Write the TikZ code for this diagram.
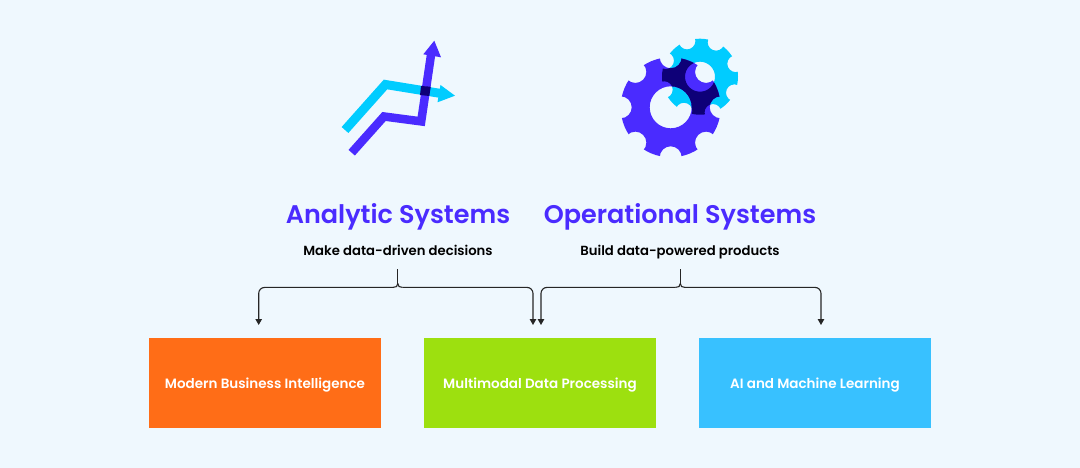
\documentclass[tikz,border=0pt]{standalone}
\usepackage{fontspec}
\setmainfont[BoldFont={Poppins SemiBold}]{Poppins}
\usetikzlibrary{arrows.meta}
\definecolor{pagebg}{HTML}{EFF8FE}
\definecolor{inkblue}{HTML}{4A2BFF}
\definecolor{inkcyan}{HTML}{00CCFF}
\definecolor{inknavy}{HTML}{0E0078}
\definecolor{boxorange}{HTML}{FF6D17}
\definecolor{boxgreen}{HTML}{9DE00F}
\definecolor{boxsky}{HTML}{38C1FF}
\tikzset{
  headline/.style={anchor=base,text=inkblue,font=\fontsize{25.5}{30}\selectfont\bfseries},
  subline/.style={anchor=base,text=black,font=\fontsize{13.2}{16}\selectfont\bfseries},
  tilebox/.style={minimum width=232pt,minimum height=90pt,inner sep=0pt,text height=14pt,text depth=3pt,text=white,font=\fontsize{13.5}{16}\selectfont\bfseries},
  stem/.style={line width=1.1pt,draw=black!85},
  bracket/.style={stem,rounded corners=6pt,-{Triangle[width=6.5pt,length=6pt]}}
}
% gear outline: x, y, outer radius, hole radius, notch radius, notch offset angle
\newcommand{\gearshape}[6]{
  (#1,#2) circle[radius=#3+3] (#1,#2) circle[radius=#4]
  \foreach \a in {0,45,...,315} { (#1,#2) ++(\a+#6:#3) circle[radius=#5] }
}
\begin{document}
\begin{tikzpicture}[x=1pt,y=-1pt]
  \useasboundingbox[fill=pagebg] (0,0) rectangle (1080,468);

  % rising arrows
  \draw[inkcyan,line width=9pt,miter limit=10] (345,130) -- (385.5,84.5) -- (441,93.5);
  \fill[inkcyan] (440.5,85) -- (455,95.7) -- (437.5,102.3) -- cycle;
  \draw[inkblue,line width=8.5pt,miter limit=10] (351.7,152.7) -- (384,116.5) -- (421.2,121.4) -- (431,55);
  \fill[inkblue] (423.3,54.3) -- (434.3,40.7) -- (441,57.3) -- cycle;
  \fill[inknavy] (421,86) -- (430.7,86.7) -- (429.3,96) -- (420,95) -- cycle;

  % gears
  \begin{scope}
    \clip (700,76.7) circle[radius=38];
    \fill[inkcyan,even odd rule] \gearshape{700}{76.7}{38}{15}{8.4}{25};
  \end{scope}
  \begin{scope}
    \clip (670.7,107.3) circle[radius=50];
    \fill[inkblue,even odd rule] \gearshape{670.7}{107.3}{50}{21}{11}{0};
  \end{scope}
  \begin{scope}[even odd rule]
    \clip (670.7,107.3) circle[radius=50];
    \clip \gearshape{670.7}{107.3}{50}{21}{11}{0};
    \clip (700,76.7) circle[radius=38];
    \fill[inknavy] \gearshape{700}{76.7}{38}{15}{8.4}{25};
  \end{scope}

  % titles
  \node[headline] (analytic) at (398,223) {Analytic Systems};
  \node[headline] (operational) at (680,223) {Operational Systems};
  \node[subline] (decisions) at (398,255.5) {Make data-driven decisions};
  \node[subline] (products) at (680,255.5) {Build data-powered products};

  % tiles
  \node[tilebox,fill=boxorange] (bi) at (265,382.5) {Modern Business Intelligence};
  \node[tilebox,fill=boxgreen] (multimodal) at (540,382.5) {Multimodal Data Processing};
  \node[tilebox,fill=boxsky] (ml) at (815,382.5) {AI and Machine Learning};

  % free ends of the brackets
  \coordinate (tipa) at (258.7,325);
  \coordinate (tipb) at (533,325);
  \coordinate (tipc) at (541,325);
  \coordinate (tipd) at (821,325);
  \coordinate (forka) at (397.8,283.5);
  \coordinate (forkb) at (680.3,283.5);
  \coordinate (topa) at (397.8,269);
  \coordinate (topb) at (680.3,269);
  \coordinate (sidea) at (393,287.4);
  \coordinate (sideb) at (402.6,287.4);
  \coordinate (sidec) at (675.5,287.4);
  \coordinate (sided) at (685.1,287.4);

  \draw[stem] (topa) -- (forka);
  \draw[stem] (topb) -- (forkb);
  \draw[stem] (sidea) .. controls (396,287.4) and (397.8,286.5) .. (forka);
  \draw[stem] (sideb) .. controls (399.6,287.4) and (397.8,286.5) .. (forka);
  \draw[stem] (sidec) .. controls (678.5,287.4) and (680.3,286.5) .. (forkb);
  \draw[stem] (sided) .. controls (682.1,287.4) and (680.3,286.5) .. (forkb);
  \draw[bracket] (sidea) -| (tipa);
  \draw[bracket] (sideb) -| (tipb);
  \draw[bracket] (sidec) -| (tipc);
  \draw[bracket] (sided) -| (tipd);
\end{tikzpicture}
\end{document}
